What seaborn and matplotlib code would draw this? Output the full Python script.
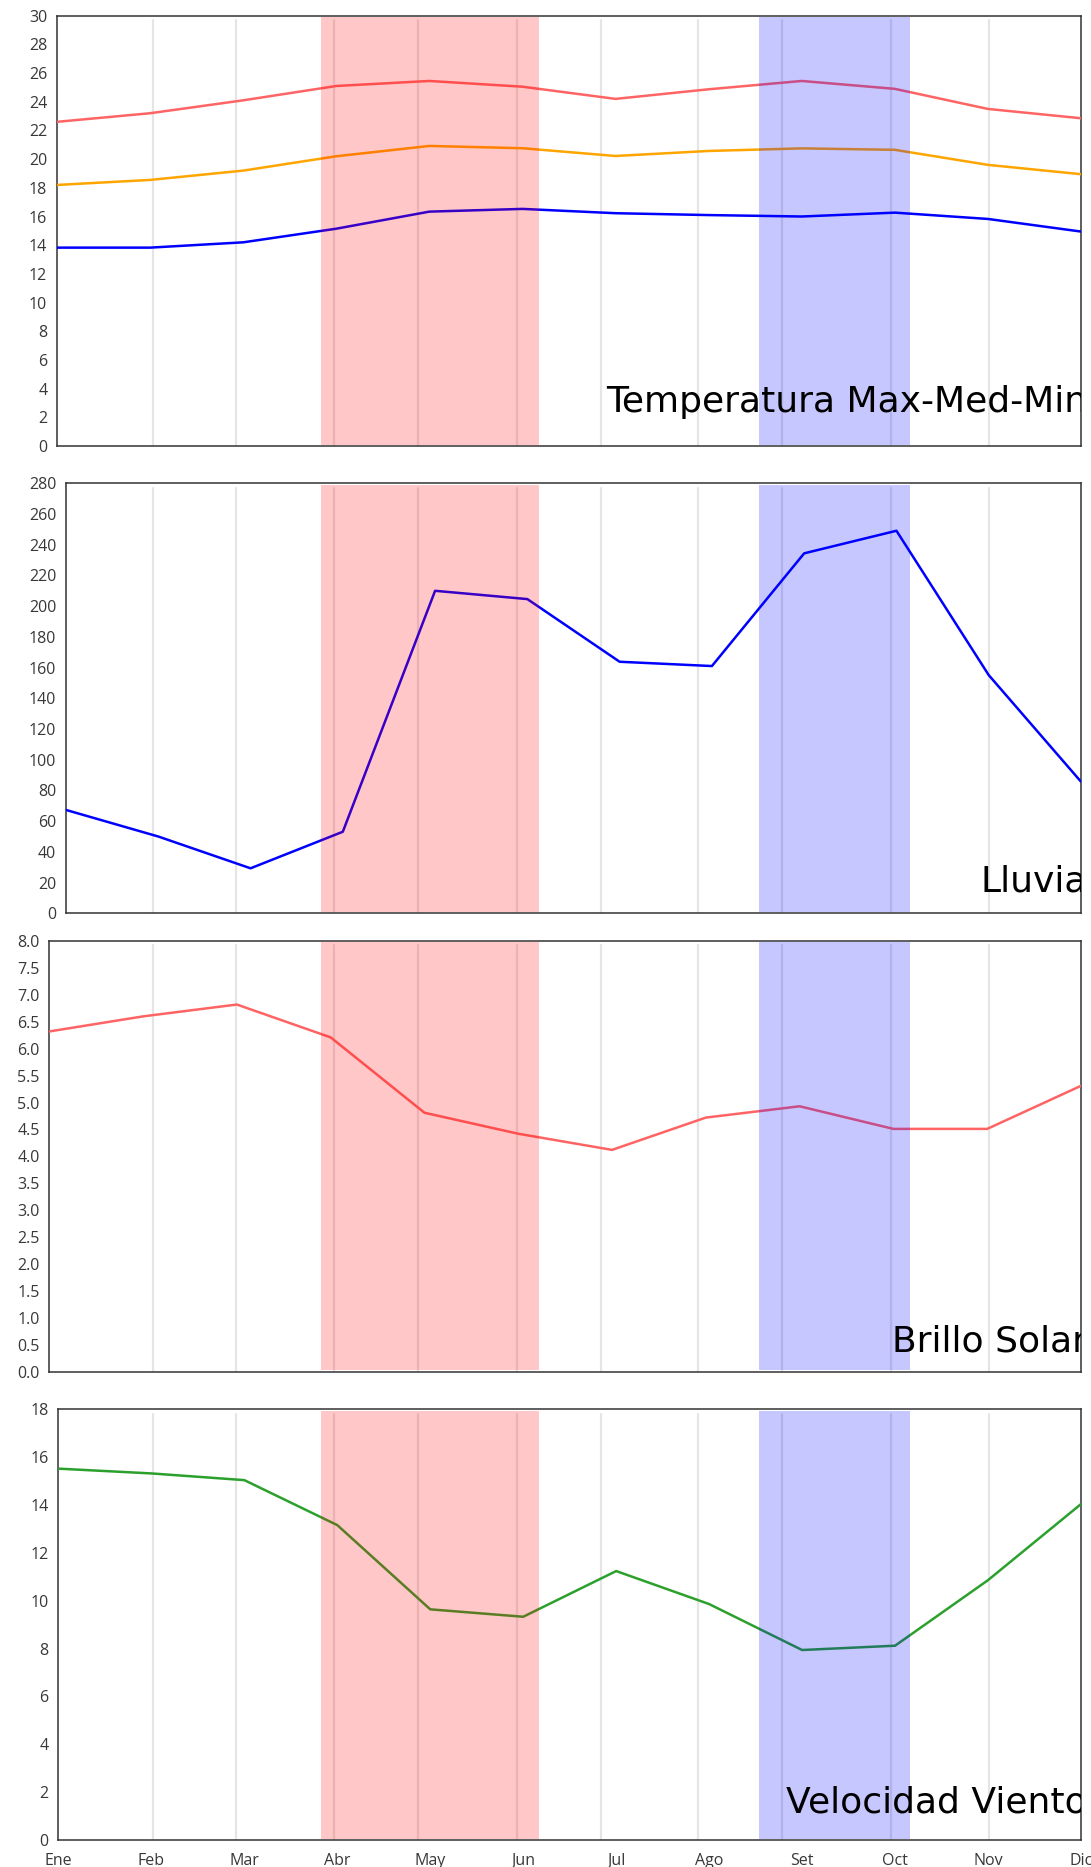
import numpy as np
import pandas as pd
import matplotlib
matplotlib.use("Agg")
import matplotlib.pyplot as plt
import seaborn as sns

# ---------------- data ----------------
months = ["Ene", "Feb", "Mar", "Abr", "May", "Jun", "Jul", "Ago", "Set", "Oct", "Nov", "Dic"]
temp_max = [22.6, 23.2, 24.1, 25.1, 25.45, 25.05, 24.2, 24.87, 25.45, 24.9, 23.5, 22.85]
temp_med = [18.2, 18.55, 19.2, 20.2, 20.92, 20.76, 20.22, 20.57, 20.75, 20.65, 19.6, 18.95]
temp_min = [13.83, 13.83, 14.2, 15.15, 16.34, 16.53, 16.23, 16.1, 16.0, 16.27, 15.83, 14.95]
lluvia = [67.3, 50.0, 29.3, 53.1, 210.0, 204.6, 163.8, 161.0, 234.4, 249.1, 155.1, 85.7]
brillo = [6.32, 6.6, 6.82, 6.21, 4.81, 4.42, 4.12, 4.72, 4.93, 4.51, 4.51, 5.31]
viento = [15.52, 15.32, 15.04, 13.16, 9.64, 9.33, 11.24, 9.86, 7.94, 8.12, 10.86, 14.04]

panel_titles = ["Temperatura Max-Med-Min", "Lluvia", "Brillo Solar", "Velocidad Viento"]

# ---------------- layout (pixels) ----------------
W, H = 1091, 1867
DPI = 100
# (left, top, right, bottom) of each axes in pixels
panel_boxes = [(57, 15.7, 1081, 446),
               (66, 483.3, 1081, 913.3),
               (49.3, 941, 1081, 1371.7),
               (58.4, 1409.3, 1081, 1840)]
grid_px = [153, 236, 334, 418, 517, 600.5, 698.3, 782, 890.8, 988.5]
red_span_px = (321.3, 539.3)
blue_span_px = (759, 910)
title_baseline_px = [34, 21.6, 20, 28]

sns.set_theme(style="white")
plt.rcParams["font.family"] = ["Open Sans", "DejaVu Sans"]

fig = plt.figure(figsize=(W / DPI, H / DPI), dpi=DPI)
fig.patch.set_facecolor("white")

x = np.arange(len(months))

df_temp = pd.DataFrame({
    "mes": np.tile(x, 3),
    "valor": temp_max + temp_med + temp_min,
    "serie": ["max"] * 12 + ["med"] * 12 + ["min"] * 12,
})
df_lluvia = pd.DataFrame({"mes": x, "valor": lluvia})
df_brillo = pd.DataFrame({"mes": x, "valor": brillo})
df_viento = pd.DataFrame({"mes": x, "valor": viento})

ylims = [(0, 30, 2, "{:.0f}"), (0, 280, 20, "{:.0f}"), (0, 8, 0.5, "{:.1f}"), (0, 18, 2, "{:.0f}")]

axes = []
for i, (l, t, r, b) in enumerate(panel_boxes):
    ax = fig.add_axes([l / W, 1 - b / H, (r - l) / W, (b - t) / H])
    axes.append(ax)

def px_to_data(px, box):
    l, t, r, b = box
    return (px - l) / (r - l) * (len(months) - 1)

lw = 1.8
sns.lineplot(data=df_temp, x="mes", y="valor", hue="serie",
             palette={"max": "#ff6464", "med": "#ffa500", "min": "#0000ff"},
             ax=axes[0], legend=False, linewidth=lw, zorder=3)
sns.lineplot(data=df_lluvia, x="mes", y="valor", color="#0000ff", ax=axes[1], linewidth=lw, zorder=3)
sns.lineplot(data=df_brillo, x="mes", y="valor", color="#ff6464", ax=axes[2], linewidth=lw, zorder=3)
sns.lineplot(data=df_viento, x="mes", y="valor", color="#2ca02c", ax=axes[3], linewidth=lw, zorder=3)

for i, ax in enumerate(axes):
    box = panel_boxes[i]
    lo, hi, step, fmt = ylims[i]
    ax.set_xlim(0, len(months) - 1)
    ax.set_ylim(lo, hi)
    yt = np.arange(lo, hi + step / 2, step)
    ax.set_yticks(yt)
    ax.set_yticklabels([fmt.format(v) for v in yt])
    ax.set_xlabel("")
    ax.set_ylabel("")
    ax.tick_params(axis="both", length=0, labelsize=11.5, labelcolor="#383838", pad=7)
    if i == 3:
        ax.set_xticks(x)
        ax.set_xticklabels(months)
        ax.tick_params(axis="x", pad=9)
        for lab in ax.get_xticklabels():
            lab.set_clip_on(False)
    else:
        ax.set_xticks([])
    for sp in ax.spines.values():
        sp.set_color("#333333")
        sp.set_linewidth(1.1)
        sp.set_visible(True)
    # vertical guide lines
    for g in grid_px:
        ax.axvline(px_to_data(g, box), color="black", alpha=0.1, linewidth=1.6,
                   ymin=0, ymax=0.99, zorder=1)
    # seasonal spans (drawn above the lines)
    ax.axvspan(px_to_data(red_span_px[0], box), px_to_data(red_span_px[1], box),
               ymin=0.003, ymax=0.997, color="#ff0000", alpha=0.22, linewidth=0, zorder=4)
    ax.axvspan(px_to_data(blue_span_px[0], box), px_to_data(blue_span_px[1], box),
               ymin=0.003, ymax=0.997, color="#0000ff", alpha=0.22, linewidth=0, zorder=4)
    # panel title
    l, t, r, b = box
    ax.text(1 + 6 / (r - l), title_baseline_px[i] / (b - t), panel_titles[i],
            transform=ax.transAxes, ha="right", va="baseline",
            fontsize=26, color="black", family=["DejaVu Sans"], clip_on=True, zorder=6)

fig.savefig("out.png", dpi=DPI)
